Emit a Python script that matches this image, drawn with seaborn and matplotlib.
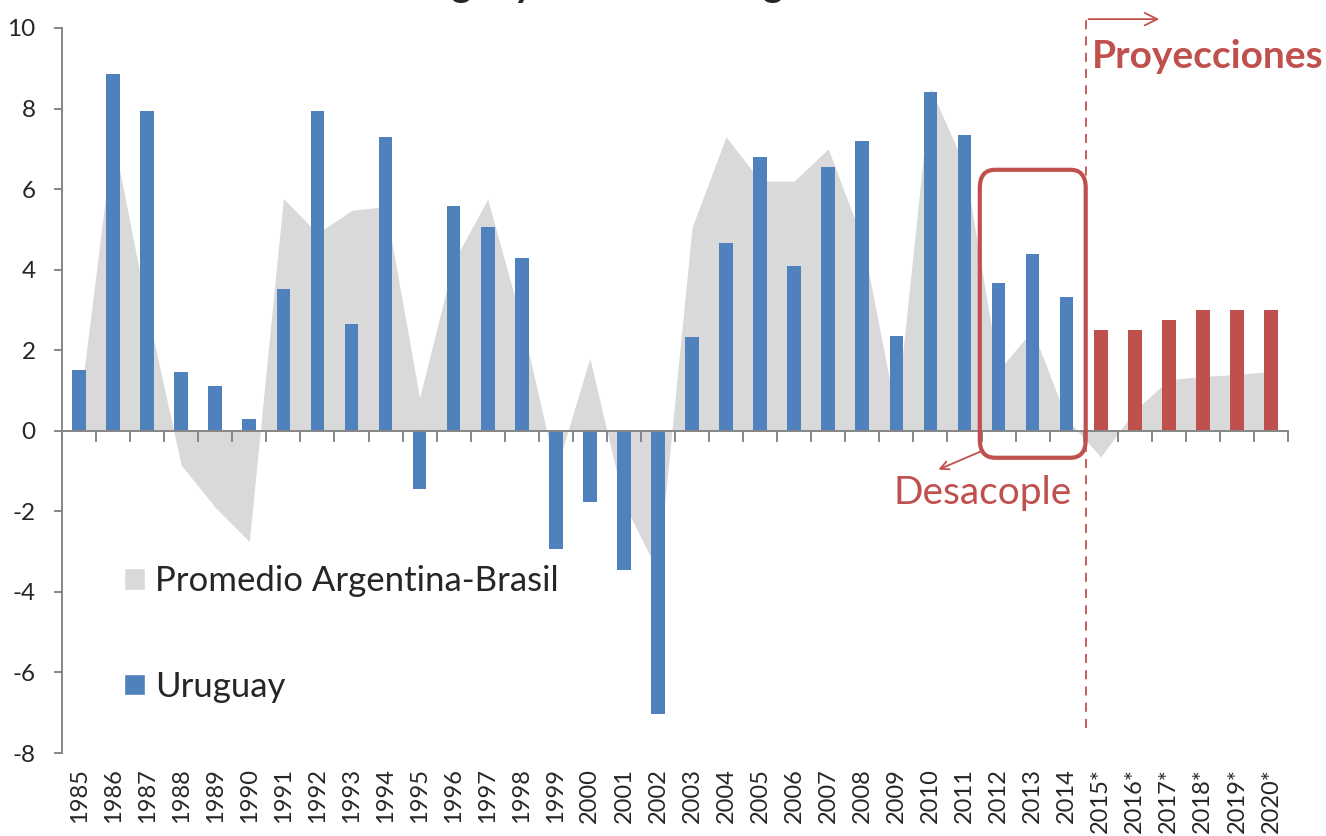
import matplotlib
matplotlib.use("Agg")
import matplotlib.pyplot as plt
import seaborn as sns
import pandas as pd
import numpy as np
from matplotlib.patches import Patch, FancyBboxPatch

# data
years = ['1985', '1986', '1987', '1988', '1989', '1990', '1991', '1992', '1993',
         '1994', '1995', '1996', '1997', '1998', '1999', '2000', '2001', '2002',
         '2003', '2004', '2005', '2006', '2007', '2008', '2009', '2010', '2011',
         '2012', '2013', '2014', '2015*', '2016*', '2017*', '2018*', '2019*', '2020*']
uruguay = [1.5, 8.86, 7.94, 1.47, 1.1, 0.3, 3.53, 7.94, 2.66, 7.29, -1.44, 5.57,
           5.05, 4.28, -2.94, -1.77, -3.46, -7.04, 2.34, 4.65, 6.8, 4.1, 6.54, 7.19,
           2.36, 8.4, 7.34, 3.68, 4.38, 3.31, 2.49, 2.49, 2.76, 3.0, 3.0, 3.0]
promedio = [0.5, 7.3, 3.0, -0.85, -1.9, -2.75, 5.77, 4.9, 5.47, 5.57, 0.82, 4.2,
            5.75, 2.7, -1.0, 1.8, -1.8, -3.5, 5.05, 7.3, 6.2, 6.2, 7.0, 4.75,
            0.4, 8.5, 6.6, 1.5, 2.5, 0.3, -0.65, 0.5, 1.27, 1.35, 1.4, 1.47]
tipo = ['Uruguay'] * 30 + ['Proyección'] * 6

label_area = 'Promedio Argentina-Brasil'
label_bar = 'Uruguay'
title = 'Uruguay frente a la región'

BLUE = '#4F81BD'
RED = '#C0504D'
GRAY = '#D9D9D9'
AXIS = '#868686'

sns.set_style('white')
plt.rcParams['font.family'] = ['Lato', 'DejaVu Sans']
plt.rcParams['axes.unicode_minus'] = False

df = pd.DataFrame({'year': years, 'uruguay': uruguay, 'promedio': promedio, 'tipo': tipo})

fig = plt.figure(figsize=(13.26, 8.36), dpi=100)
ax = fig.add_axes([62 / 1326, 1 - 753 / 836, 1226 / 1326, 725 / 836])

pos = np.arange(len(years))
ax.fill_between(pos, df['promedio'], 0, color=GRAY, linewidth=0, zorder=0.5)
sns.barplot(data=df, x='year', y='uruguay', hue='tipo',
            palette={'Uruguay': BLUE, 'Proyección': RED}, saturation=1,
            width=0.4, legend=False, ax=ax, zorder=2, linewidth=0)

ax.set_xlim(-0.5, len(years) - 0.5)
ax.set_ylim(-8, 10)
ax.set_yticks(range(-8, 11, 2))
ax.set_xlabel('')
ax.set_ylabel('')

for s in ['top', 'right', 'bottom']:
    ax.spines[s].set_visible(False)
ax.spines['left'].set_color(AXIS)
ax.spines['left'].set_linewidth(1.4)
ax.tick_params(axis='y', length=6, width=1.4, color=AXIS, pad=13, labelsize=17.5,
               left=True)
ax.tick_params(axis='x', length=0, pad=11, labelsize=17, rotation=90)

# category axis drawn at y = 0, tick marks between categories
sec = ax.secondary_xaxis(8 / 18)
sec.set_xticks(np.arange(-0.5, len(years), 1))
sec.tick_params(axis='x', length=8, width=1.4, color=AXIS, labelbottom=False,
                direction='out')
sec.spines['bottom'].set_color(AXIS)
sec.spines['bottom'].set_linewidth(1.4)
sec.set_zorder(3)

# legend
handles = [Patch(facecolor=GRAY, label=label_area),
           Patch(facecolor=BLUE, label=label_bar)]
ax.legend(handles=handles, loc='center left', bbox_to_anchor=(0.0506, 0.1644),
          frameon=False, fontsize=25, borderpad=0, borderaxespad=0,
          labelspacing=2.12, handlelength=0.6, handleheight=0.58,
          handletextpad=0.29)

# annotations: projections
ax.axvline(29.56, ymin=(-7.38 + 8) / 18, ymax=(10.32 + 8) / 18, color=RED,
           lw=1.3, ls=(0, (5, 4)), clip_on=False, zorder=3)
ax.annotate('', xy=(31.8, 10.22), xytext=(29.56, 10.22),
            arrowprops=dict(arrowstyle='->,head_length=0.9,head_width=0.45',
                            color=RED, lw=1.3),
            annotation_clip=False)
ax.text(29.74, 9.28, 'Proyecciones', color=RED, fontsize=28, fontweight='bold',
        ha='left', va='center')

# annotations: decoupling
box = FancyBboxPatch((26.45, -0.67), 29.56 - 26.45, 6.48 + 0.67,
                     boxstyle='round,pad=0,rounding_size=0.45',
                     fill=False, edgecolor=RED, lw=3, zorder=4, clip_on=False)
ax.add_patch(box)
ax.annotate('', xy=(25.16, -0.99), xytext=(26.6, -0.47),
            arrowprops=dict(arrowstyle='->,head_length=0.6,head_width=0.3',
                            color=RED, lw=1.3),
            annotation_clip=False)
ax.text(26.54, -1.54, 'Desacople', color=RED, fontsize=28, ha='center', va='center')

fig.text(0.4615, 1.004, title, ha='center', va='baseline', fontsize=28,
         fontweight='bold')

fig.savefig('out.png', dpi=100)
